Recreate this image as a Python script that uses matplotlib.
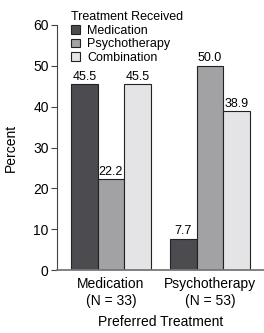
import matplotlib
matplotlib.use("Agg")
import matplotlib.pyplot as plt
import numpy as np

plt.rcParams["font.family"] = ["Liberation Sans", "DejaVu Sans"]

groups = ["Medication\n(N = 33)", "Psychotherapy\n(N = 53)"]
series = ["Medication", "Psychotherapy", "Combination"]
values = {
    "Medication": [45.5, 7.7],
    "Psychotherapy": [22.2, 50.0],
    "Combination": [45.5, 38.9],
}
colors = ["#4b4b50", "#a2a2a5", "#e4e4e6"]
yticks = [0, 10, 20, 30, 40, 50, 60]

fig = plt.figure(figsize=(2.64, 3.33), dpi=100)
ax = fig.add_axes([0.216, 0.189, 0.784, 0.736])
x = np.arange(len(groups))
w = 0.268
for i, s in enumerate(series):
    xs = x + (i - 1) * w
    bars = ax.bar(xs, values[s], width=w, color=colors[i], edgecolor="#222222",
                  linewidth=0.8, label=s)
    for b, v in zip(bars, values[s]):
        ax.text(b.get_x() + b.get_width() / 2, v + 0.4, f"{v:.1f}",
                ha="center", va="bottom", fontsize=9)

ax.set_xlim(-0.545, 1.545)
ax.set_ylim(0, 60)
ax.set_yticks(yticks)
ax.set_xticks(x)
ax.set_xticklabels(groups, fontsize=10, linespacing=1.3)
ax.tick_params(axis="y", labelsize=10, length=4, color="#444444", pad=2)
ax.tick_params(axis="x", length=0, pad=5)
ax.spines["top"].set_visible(False)
ax.spines["right"].set_visible(False)
ax.spines["bottom"].set_color("#777777")
ax.spines["bottom"].set_linewidth(1.3)
ax.spines["left"].set_color("#444444")
ax.set_ylabel("Percent", fontsize=10)
ax.yaxis.set_label_coords(-0.19, 0.5)
ax.set_xlabel("Preferred Treatment", fontsize=10, labelpad=5)

leg = ax.legend(title="Treatment Received", loc="upper left",
                bbox_to_anchor=(0.068, 1.055), frameon=False, fontsize=9,
                title_fontsize=9, handlelength=0.7, handleheight=0.7,
                handletextpad=0.6, labelspacing=0.12, borderaxespad=0,
                borderpad=0)
leg._legend_box.align = "left"

fig.savefig("out.png", dpi=100)
